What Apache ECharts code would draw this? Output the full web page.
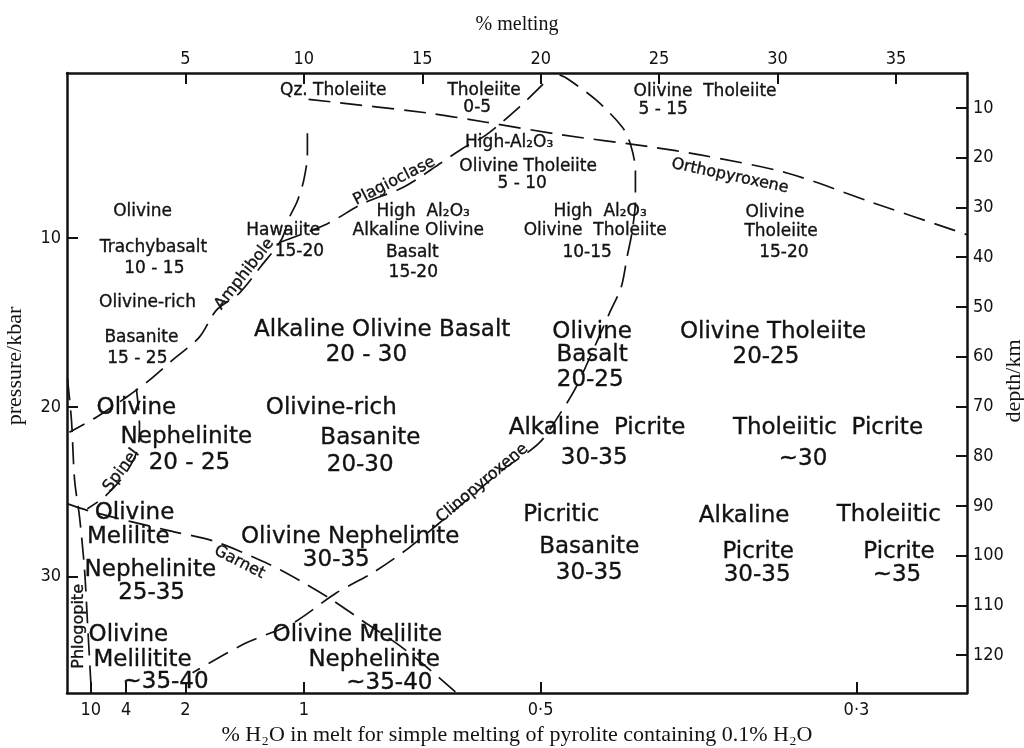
<!DOCTYPE html>
<html><head><meta charset="utf-8">
<script src="https://cdn.jsdelivr.net/npm/echarts@6/dist/echarts.min.js"></script>
<style>html,body{margin:0;padding:0;background:#fff}#c{width:1024px;height:748px}</style>
</head><body><div id="c"></div>
<script>
// ---- axes ----
const meltTicks = [5, 10, 15, 20, 25, 30, 35];           // % melting (top)
const pressureTicks = [10, 20, 30];                      // kbar (left)
const depthTicks = [10, 20, 30, 40, 50, 60, 70, 80, 90, 100, 110, 120]; // km (right)
const waterTicks = [10, 4, 2, 1, 0.5, 0.3];              // % H2O in melt (bottom)
const waterTickLabels = ['10', '4', '2', '1', '0·5', '0·3'];
const bulkWater = 0.1;                                   // % H2O in pyrolite

// ---- phase boundaries [% melting, kbar] ----
const orthopyroxeneLine = [[10.2,1.8],[15.2,2.6],[17.7,3.15],[20.9,3.9],[24.6,4.6],[26.8,5.1],[30.4,6.15],[34.0,7.9],[38.0,9.8]];
const plagioclaseLine = [[20.1,0.9],[19.1,2.25],[17.7,3.9],[16.7,4.7],[15.8,5.55],[14.2,7.0],[12.5,7.95],[11.0,9.15],[9.0,10.25]];
const amphiboleLine = [[10.15,3.8],[10.15,5.2],[10.1,5.8],[9.95,6.85],[9.7,7.9],[9.4,8.75],[9.05,10.1],[8.2,11.65],[7.28,13.25],[6.31,14.26],[5.59,15.86],[4.45,17.22],[3.48,18.4],[2.51,19.41],[1.24,20.59],[0.1,21.48]];
const clinopyroxeneLine = [[20.8,0.35],[21.1,0.55],[22.35,1.85],[23.45,3.45],[23.8,4.5],[24.0,6.0],[24.0,7.75],[23.85,9.7],[23.65,11.1],[23.4,12.9],[22.9,14.45],[22.35,16.2],[21.5,18.8],[20.9,20.2],[19.95,22.1],[18.4,23.7],[16.7,25.7],[14.45,28.3],[12.9,29.8],[11.35,31.0],[9.5,32.8],[7.55,33.95],[5.3,35.7]];
const garnetLine = [[0,25.7],[1.1,26.2],[4.3,27.3],[6.15,27.9],[8.4,29.2],[9.95,30.35],[11.2,31.4],[12.55,32.7],[13.9,33.95],[15.0,35.15],[16.45,36.9]];
const spinelLine = [[2.93,18.9],[3.06,21.05],[2.97,22.55],[2.43,24.0],[1.58,25.3],[0.86,26.0]];
const phlogopiteLine = [[0.02,18.3],[0.19,20.8],[0.32,24.3],[0.53,26.5],[0.74,29.6],[0.86,32.6],[1.03,36.9]];

// ---- labels [text, % melting, kbar] ----
const smallLabels = [
  ['Qz. Tholeiite', 11.24, 1.30], ['Tholeiite', 17.61, 1.30], ['0-5', 17.32, 2.31],
  ['Olivine  Tholeiite', 26.94, 1.36], ['5 - 15', 25.17, 2.43],
  ['High-Al₂O₃', 18.67, 4.38], ['Olivine Tholeiite', 19.47, 5.80], ['5 - 10', 19.22, 6.80],
  ['Olivine', 3.19, 8.46], ['Trachybasalt', 3.65, 10.59], ['10 - 15', 3.69, 11.78],
  ['Olivine-rich', 3.40, 13.79], ['Basanite', 3.14, 15.86], ['15 - 25', 2.97, 17.10],
  ['Hawaiite', 9.13, 9.53], ['15-20', 9.81, 10.77],
  ['High  Al₂O₃', 15.04, 8.46], ['Alkaline Olivine', 14.83, 9.53], ['Basalt', 14.58, 10.83], ['15-20', 14.62, 12.07],
  ['High  Al₂O₃', 22.51, 8.46], ['Olivine  Tholeiite', 22.30, 9.53], ['10-15', 21.96, 10.83],
  ['Olivine', 29.89, 8.52], ['Tholeiite', 30.15, 9.59], ['15-20', 30.27, 10.83]
];
const largeLabels = [
  ['Alkaline Olivine Basalt', 13.31, 15.44], ['20 - 30', 12.64, 16.92],
  ['Olivine', 22.17, 15.56], ['Basalt', 22.17, 16.92], ['20-25', 22.09, 18.40],
  ['Olivine Tholeiite', 29.81, 15.56], ['20-25', 29.51, 17.04],
  ['Olivine', 2.93, 20.06], ['Nephelinite', 5.04, 21.78], ['20 - 25', 5.17, 23.31],
  ['Olivine-rich', 11.16, 20.06], ['Basanite', 12.81, 21.83], ['20-30', 12.38, 23.43],
  ['Alkaline  Picrite', 22.38, 21.24], ['30-35', 22.26, 23.02],
  ['Tholeiitic  Picrite', 32.13, 21.24], ['~30', 31.08, 23.08],
  ['Picritic', 20.87, 26.39], ['Basanite', 22.05, 28.28], ['30-35', 22.05, 29.82],
  ['Alkaline', 28.59, 26.45], ['Picrite', 29.18, 28.58], ['30-35', 29.14, 29.94],
  ['Tholeiitic', 34.70, 26.39], ['Picrite', 35.13, 28.58], ['~35', 35.04, 29.94],
  ['Olivine', 2.85, 26.27], ['Melilite', 2.59, 27.69], ['Nephelinite', 3.52, 29.64], ['25-35', 3.57, 31.0],
  ['Olivine Nephelinite', 11.96, 27.69], ['30-35', 11.37, 29.05],
  ['Olivine', 2.59, 33.49], ['Melilitite', 3.19, 34.97], ['~35-40', 4.16, 36.27],
  ['Olivine Melilite', 12.26, 33.49], ['Nephelinite', 12.97, 34.97], ['~35-40', 13.61, 36.33]
];
const boundaryLabels = [
  ['Orthopyroxene', 27.99, 6.33], ['Plagioclase', 13.82, 6.63], ['Amphibole', 7.49, 12.13],
  ['Spinel', 2.30, 23.73], ['Garnet', 7.28, 29.17], ['Clinopyroxene', 17.53, 24.50], ['Phlogopite', 0.49, 32.96]
];
const boundaryAngles = { Orthopyroxene: -12, Plagioclase: 27, Amphibole: 52, Spinel: 53, Garnet: -27, Clinopyroxene: 40, Phlogopite: 90 };

const INK = '#121212';
const SANS = "'DejaVu Sans', sans-serif";
const TICKFONT = "'DejaVu Sans Condensed', 'DejaVu Sans', sans-serif";
const SERIF = "'Liberation Serif', 'DejaVu Serif', serif";

const waterPos = waterTicks.map(h => bulkWater / h * 100);
function waterLabel(v) {
  for (let i = 0; i < waterPos.length; i++) if (Math.abs(waterPos[i] - v) < 1e-6) return waterTickLabels[i];
  return '';
}

function frameAxis(extra) {
  return Object.assign({
    type: 'value',
    axisLine: { show: true, onZero: false, lineStyle: { color: INK, width: 2.5 } },
    axisTick: { show: true, inside: true, length: 11, lineStyle: { color: INK, width: 2 } },
    axisLabel: { color: INK, fontFamily: TICKFONT, fontSize: 18 },
    splitLine: { show: false },
    nameLocation: 'middle',
    nameTextStyle: { color: INK, fontFamily: SERIF, fontSize: 22 }
  }, extra);
}

const dash = { color: INK, width: 1.7, type: [22, 10] };
function boundary(data) {
  return { type: 'line', data: data, xAxisIndex: 0, yAxisIndex: 0, showSymbol: false, symbol: 'none',
           smooth: 0.3, lineStyle: dash, silent: true, animation: false, z: 2 };
}
function textSeries(arr, fontSize, angles) {
  return {
    type: 'custom', coordinateSystem: 'cartesian2d', xAxisIndex: 0, yAxisIndex: 0,
    data: arr.map(d => [d[1], d[2]]), silent: true, animation: false, clip: false, z: 3,
    renderItem: function (params, api) {
      const d = arr[params.dataIndex];
      const pt = api.coord([api.value(0), api.value(1)]);
      const ang = angles ? (angles[d[0]] || 0) : 0;
      return { type: 'text', x: pt[0], y: pt[1], rotation: ang * Math.PI / 180,
        style: { text: d[0], fill: INK, font: fontSize + 'px ' + SANS,
                 stroke: INK, lineWidth: 0.35,
                 align: 'center', verticalAlign: 'middle', textAlign: 'center', textVerticalAlign: 'middle' } };
    }
  };
}
function sideTitle(text, x, y) {
  return { type: 'text', x: x, y: y, rotation: Math.PI / 2, silent: true,
    style: { text: text, fill: INK, font: '22px ' + SERIF,
             align: 'center', verticalAlign: 'middle', textAlign: 'center', textVerticalAlign: 'middle' } };
}

const chart = echarts.init(document.getElementById('c'), null, { renderer: 'canvas' });
chart.setOption({
  backgroundColor: '#ffffff',
  animation: false,
  grid: { left: 67, right: 57, top: 73, bottom: 55, containLabel: false, outerBoundsMode: 'none' },
  graphic: [ sideTitle('pressure/kbar', 15, 366), sideTitle('depth/km', 1014, 381) ],
  xAxis: [
    frameAxis({ position: 'top', min: 0, max: 38,
      axisTick: { show: true, inside: true, length: 11, lineStyle: { color: INK, width: 2 }, customValues: meltTicks },
      axisLabel: { color: INK, fontFamily: TICKFONT, fontSize: 18, margin: 5, customValues: meltTicks },
      name: '% melting', nameGap: 38, nameTextStyle: { color: INK, fontFamily: SERIF, fontSize: 20 } }),
    frameAxis({ position: 'bottom', min: 0, max: 38,
      axisTick: { show: true, inside: true, length: 11, lineStyle: { color: INK, width: 2 }, customValues: waterPos },
      axisLabel: { color: INK, fontFamily: TICKFONT, fontSize: 18, margin: 8, customValues: waterPos, formatter: waterLabel },
      name: '% H₂O in melt for simple melting of pyrolite containing 0.1% H₂O', nameGap: 30 })
  ],
  yAxis: [
    frameAxis({ position: 'left', inverse: true, min: 0.24, max: 36.9,
      axisTick: { show: true, inside: true, length: 11, lineStyle: { color: INK, width: 2 }, customValues: pressureTicks },
      axisLabel: { color: INK, fontFamily: TICKFONT, fontSize: 18, margin: 6, customValues: pressureTicks } }),
    frameAxis({ position: 'right', inverse: true, min: 2.96, max: 127.6,
      axisTick: { show: true, inside: true, length: 11, lineStyle: { color: INK, width: 2 }, customValues: depthTicks },
      axisLabel: { color: INK, fontFamily: TICKFONT, fontSize: 18, margin: 6, customValues: depthTicks } })
  ],
  series: [
    boundary(orthopyroxeneLine), boundary(plagioclaseLine), boundary(amphiboleLine),
    boundary(clinopyroxeneLine), boundary(garnetLine), boundary(spinelLine), boundary(phlogopiteLine),
    textSeries(smallLabels, 17, null),
    textSeries(largeLabels, 23, null),
    textSeries(boundaryLabels, 16, boundaryAngles)
  ]
});
</script></body></html>
